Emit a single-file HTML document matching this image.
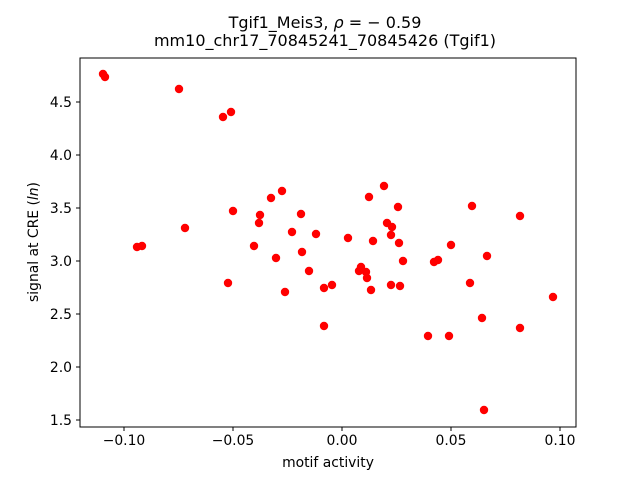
<!DOCTYPE html>
<html><head><meta charset="utf-8"><style>
html,body{margin:0;padding:0;background:#fff}
svg{display:block;font-family:"DejaVu Sans","Liberation Sans",sans-serif}
</style></head><body>
<svg width="640" height="480" viewBox="0 0 640 480" xmlns="http://www.w3.org/2000/svg">
<rect width="640" height="480" fill="#fff"/>
<text x="325" y="28" text-anchor="middle" font-size="16">Tgif1_Meis3, <tspan font-style="italic">ρ</tspan> = − 0.59</text>
<text x="325" y="46" text-anchor="middle" font-size="16">mm10_chr17_70845241_70845426 (Tgif1)</text>
<g fill="#ff0000">
<circle cx="103" cy="74" r="4.2"/><circle cx="105" cy="77" r="4.2"/><circle cx="179" cy="89" r="4.2"/>
<circle cx="223" cy="117" r="4.2"/><circle cx="231" cy="112" r="4.2"/><circle cx="233" cy="211" r="4.2"/>
<circle cx="137" cy="247" r="4.2"/><circle cx="142" cy="246" r="4.2"/><circle cx="185" cy="228" r="4.2"/>
<circle cx="228" cy="283" r="4.2"/><circle cx="260" cy="215" r="4.2"/><circle cx="254" cy="246" r="4.2"/>
<circle cx="259" cy="223" r="4.2"/><circle cx="271" cy="198" r="4.2"/><circle cx="276" cy="258" r="4.2"/>
<circle cx="282" cy="191" r="4.2"/><circle cx="285" cy="292" r="4.2"/><circle cx="292" cy="232" r="4.2"/>
<circle cx="301" cy="214" r="4.2"/><circle cx="302" cy="252" r="4.2"/><circle cx="309" cy="271" r="4.2"/>
<circle cx="316" cy="234" r="4.2"/><circle cx="324" cy="288" r="4.2"/><circle cx="324" cy="326" r="4.2"/>
<circle cx="332" cy="285" r="4.2"/><circle cx="348" cy="238" r="4.2"/><circle cx="359" cy="271" r="4.2"/>
<circle cx="361" cy="267" r="4.2"/><circle cx="366" cy="272" r="4.2"/><circle cx="367" cy="278" r="4.2"/>
<circle cx="369" cy="197" r="4.2"/><circle cx="371" cy="290" r="4.2"/><circle cx="373" cy="241" r="4.2"/>
<circle cx="384" cy="186" r="4.2"/><circle cx="387" cy="223" r="4.2"/><circle cx="392" cy="227" r="4.2"/>
<circle cx="391" cy="235" r="4.2"/><circle cx="391" cy="285" r="4.2"/><circle cx="398" cy="207" r="4.2"/>
<circle cx="399" cy="243" r="4.2"/><circle cx="400" cy="286" r="4.2"/><circle cx="403" cy="261" r="4.2"/>
<circle cx="428" cy="336" r="4.2"/><circle cx="434" cy="262" r="4.2"/><circle cx="438" cy="260" r="4.2"/>
<circle cx="449" cy="336" r="4.2"/><circle cx="451" cy="245" r="4.2"/><circle cx="470" cy="283" r="4.2"/>
<circle cx="472" cy="206" r="4.2"/><circle cx="482" cy="318" r="4.2"/><circle cx="484" cy="410" r="4.2"/>
<circle cx="487" cy="256" r="4.2"/><circle cx="520" cy="216" r="4.2"/><circle cx="520" cy="328" r="4.2"/>
<circle cx="553" cy="297" r="4.2"/>
</g>
<rect x="80" y="58" width="496" height="369" fill="none" stroke="#000" stroke-width="1"/>
<g stroke="#000" stroke-width="1">
<line x1="124" y1="427" x2="124" y2="431"/><line x1="233" y1="427" x2="233" y2="431"/>
<line x1="342" y1="427" x2="342" y2="431"/><line x1="451" y1="427" x2="451" y2="431"/>
<line x1="560" y1="427" x2="560" y2="431"/>
<line x1="76" y1="420" x2="80" y2="420"/><line x1="76" y1="367" x2="80" y2="367"/>
<line x1="76" y1="314" x2="80" y2="314"/><line x1="76" y1="261" x2="80" y2="261"/>
<line x1="76" y1="208" x2="80" y2="208"/><line x1="76" y1="155" x2="80" y2="155"/>
<line x1="76" y1="102" x2="80" y2="102"/>
</g>
<g font-size="13.9" text-anchor="middle">
<text x="124" y="445">−0.10</text><text x="233" y="445">−0.05</text><text x="342" y="445">0.00</text>
<text x="451" y="445">0.05</text><text x="560" y="445">0.10</text>
</g>
<g font-size="13.9" text-anchor="end">
<text x="72" y="425">1.5</text><text x="72" y="372">2.0</text><text x="72" y="319">2.5</text>
<text x="72" y="266">3.0</text><text x="72" y="213">3.5</text><text x="72" y="160">4.0</text>
<text x="72" y="107">4.5</text>
</g>
<text x="328" y="467" text-anchor="middle" font-size="13.9">motif activity</text>
<text transform="translate(38,242) rotate(-90)" text-anchor="middle" font-size="13.9">signal at CRE (<tspan font-style="italic">ln</tspan>)</text>
</svg>
</body></html>
